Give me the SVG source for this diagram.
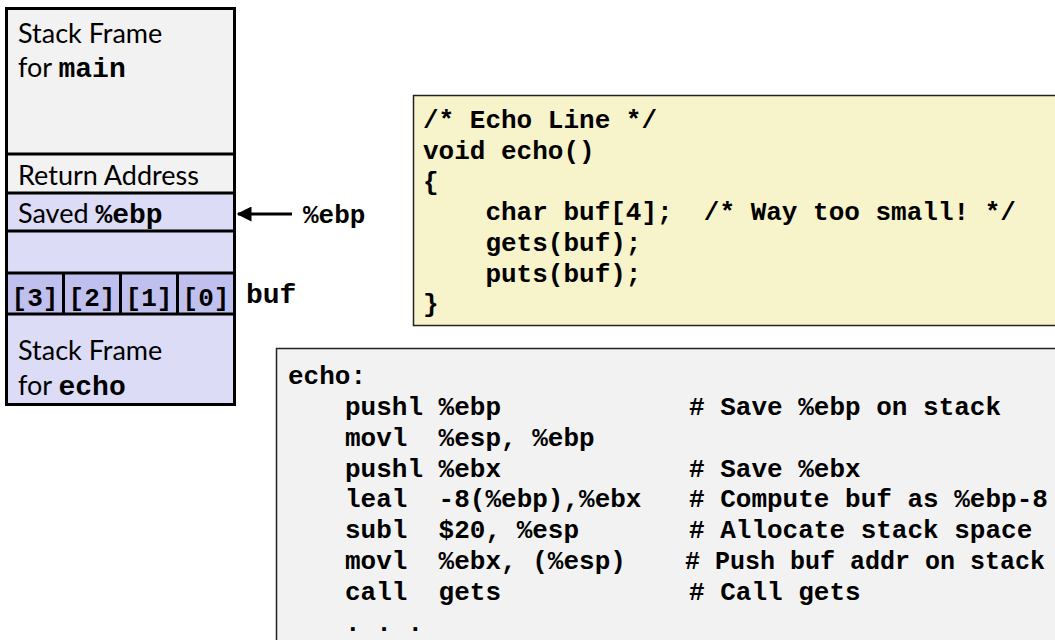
<svg xmlns="http://www.w3.org/2000/svg" width="1055" height="640" viewBox="0 0 1055 640">
  <defs>
    <style>
      .sans { font-family: "Lato", "Open Sans", sans-serif; font-size: 27px; fill: #000; }
      .mono { font-family: "Liberation Mono", "Courier New", monospace; font-weight: bold; fill: #000; }
      .m28 { font-size: 28px; }
      .m26 { font-size: 26px; }
      .gray { fill: #f2f2f2; }
      .lav { fill: #dcdcf6; }
      .cell { fill: #c0c0ee; }
      .sep { stroke: #000; stroke-width: 3; fill: none; }
      .code { font-family: "Liberation Mono", "Courier New", monospace; font-weight: bold; font-size: 26px; fill: #000; white-space: pre; }
      .tight { font-size: 25px; }
    </style>
    <marker id="arrowhead" viewBox="0 0 10 10" refX="9" refY="5" markerWidth="5" markerHeight="5" orient="auto">
      <path d="M0,0 L10,5 L0,10 z" fill="#000"/>
    </marker>
  </defs>

  <rect width="1055" height="640" fill="#fff"/>

  <!-- stack: one group per slot, top (high addresses) to bottom -->
  <g id="frame-main">
    <rect x="6.5" y="8.5" width="228" height="145.5" class="gray"/>
    <text x="18" y="43" class="sans">Stack Frame</text>
    <text x="18" y="77" class="sans">for <tspan class="mono m28">main</tspan></text>
  </g>
  <g id="return-address">
    <rect x="6.5" y="154" width="228" height="39" class="gray"/>
    <text x="18" y="185" class="sans">Return Address</text>
  </g>
  <g id="saved-ebp">
    <rect x="6.5" y="193" width="228" height="38" class="lav"/>
    <text x="18" y="223" class="sans">Saved <tspan class="mono m28">%ebp</tspan></text>
  </g>
  <g id="padding">
    <rect x="6.5" y="231" width="228" height="42" class="lav"/>
  </g>
  <g id="buf">
    <rect x="6.5" y="273" width="228" height="41" class="cell"/>
    <text x="35" y="306" class="mono m26" text-anchor="middle">[3]</text>
    <text x="92" y="306" class="mono m26" text-anchor="middle">[2]</text>
    <text x="149" y="306" class="mono m26" text-anchor="middle">[1]</text>
    <text x="206" y="306" class="mono m26" text-anchor="middle">[0]</text>
    <path d="M63.5,273 V314 M120.5,273 V314 M177.5,273 V314" class="sep"/>
  </g>
  <g id="frame-echo">
    <rect x="6.5" y="314" width="228" height="90.5" class="lav"/>
    <text x="18" y="360" class="sans">Stack Frame</text>
    <text x="18" y="395" class="sans">for <tspan class="mono m28">echo</tspan></text>
  </g>
  <!-- slot borders and outline -->
  <path d="M6.5,154 H234.5 M6.5,193 H234.5 M6.5,231 H234.5 M6.5,273 H234.5 M6.5,314 H234.5" class="sep"/>
  <rect x="6.5" y="8.5" width="228" height="396" class="sep"/>

  <!-- labels beside the stack -->
  <g id="label-ebp">
    <text x="303" y="223" class="mono m26">%ebp</text>
  </g>
  <g id="label-buf">
    <text x="246" y="303" class="mono m28">buf</text>
  </g>

  <g id="connectors">
    <line x1="292" y1="214" x2="238" y2="214" stroke="#000" stroke-width="3" marker-end="url(#arrowhead)"/>
  </g>

  <!-- C source -->
  <g id="c-source">
    <rect x="413.5" y="95.5" width="650" height="230" fill="#f7f3cb" stroke="#222" stroke-width="1.5"/>
    <text class="code" x="423" y="128">/* Echo Line */</text>
    <text class="code" x="423" y="159">void echo()</text>
    <text class="code" x="423" y="190">{</text>
    <text class="code" x="423" y="220">    char buf[4];  /* Way too small! */</text>
    <text class="code" x="423" y="251">    gets(buf);</text>
    <text class="code" x="423" y="282">    puts(buf);</text>
    <text class="code" x="423" y="312">}</text>
  </g>

  <!-- assembly listing -->
  <g id="asm-listing">
    <rect x="276.5" y="348.5" width="790" height="300" fill="#f2f2f2" stroke="#222" stroke-width="1.5"/>
    <text class="code" x="288" y="384">echo:</text>
    <text class="code" x="345" y="415">pushl %ebp</text>
    <text class="code" x="345" y="446">movl  %esp, %ebp</text>
    <text class="code" x="345" y="477">pushl %ebx</text>
    <text class="code" x="345" y="507">leal  -8(%ebp),%ebx</text>
    <text class="code" x="345" y="538">subl  $20, %esp</text>
    <text class="code" x="345" y="569">movl  %ebx, (%esp)</text>
    <text class="code" x="345" y="600">call  gets</text>
    <text class="code" x="345" y="631">. . .</text>
    <text class="code" x="689" y="415"># Save %ebp on stack</text>
    <text class="code" x="689" y="477"># Save %ebx</text>
    <text class="code" x="689" y="507"># Compute buf as %ebp-8</text>
    <text class="code" x="689" y="538"># Allocate stack space</text>
    <text class="code tight" x="685" y="569"># Push buf addr on stack</text>
    <text class="code" x="689" y="600"># Call gets</text>
  </g>
</svg>
